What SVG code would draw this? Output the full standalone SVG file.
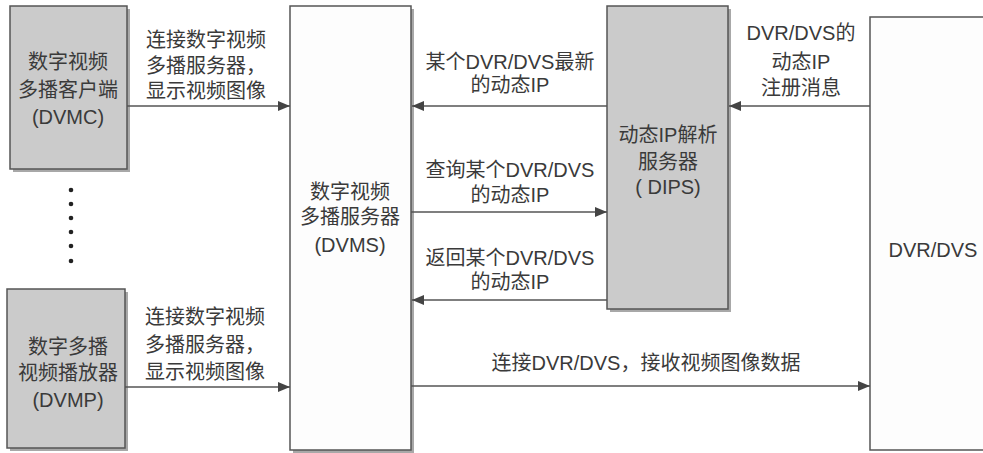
<svg xmlns="http://www.w3.org/2000/svg" width="983" height="453" viewBox="0 0 983 453">
<style>
text{font-family:"Liberation Sans","Noto Sans CJK SC",sans-serif;fill:#3a3a3a;text-anchor:middle}
.lab{font-size:20px}
.box{font-size:20px}
.gray{fill:#cbcbcb;stroke:#555;stroke-width:1.5}
.white{fill:#fdfdfd;stroke:#555;stroke-width:1.5}
.shadow{fill:#a8a8a8}
.conn{stroke:#555;stroke-width:1.5;fill:none;marker-end:url(#ah)}
</style>
<defs>
<marker id="ah" markerWidth="12" markerHeight="10" refX="12" refY="5" orient="auto" markerUnits="userSpaceOnUse">
<path d="M0,0 L12,5 L0,10 Z" fill="#444"/>
</marker>
</defs>
<rect width="983" height="453" fill="#ffffff"/>
<g id="dvmc">
<rect class="shadow" x="13" y="9" width="117" height="163"/>
<rect class="gray" x="10" y="6" width="117" height="163"/>
<text class="box" x="68" y="69">数字视频</text>
<text class="box" x="68" y="97">多播客户端</text>
<text class="box" x="68" y="124">(DVMC)</text>
</g>
<g id="dots" fill="#222">
<circle cx="71" cy="190" r="2.3"/>
<circle cx="71" cy="204" r="2.3"/>
<circle cx="71" cy="218" r="2.3"/>
<circle cx="71" cy="232" r="2.3"/>
<circle cx="71" cy="246" r="2.3"/>
<circle cx="71" cy="261" r="2.3"/>
</g>
<g id="dvmp">
<rect class="shadow" x="10" y="292" width="118" height="159"/>
<rect class="gray" x="7" y="289" width="118" height="159"/>
<text class="box" x="68" y="354">数字多播</text>
<text class="box" x="68" y="380">视频播放器</text>
<text class="box" x="68" y="407">(DVMP)</text>
</g>
<g id="dvms">
<rect class="shadow" x="293" y="9" width="121" height="444"/>
<rect class="white" x="290" y="6" width="121" height="444"/>
<text class="box" x="350" y="199">数字视频</text>
<text class="box" x="350" y="224">多播服务器</text>
<text class="box" x="350" y="252">(DVMS)</text>
</g>
<g id="dips">
<rect class="shadow" x="610" y="9" width="121" height="303"/>
<rect class="gray" x="607" y="6" width="121" height="303"/>
<text class="box" x="668" y="142">动态IP解析</text>
<text class="box" x="668" y="169">服务器</text>
<text class="box" x="668" y="194">( DIPS)</text>
</g>
<g id="dvr">
<rect class="white" x="870" y="17" width="120" height="433"/>
<text class="box" x="933" y="257">DVR/DVS</text>
</g>
<g id="connectors">
<line class="conn" x1="127" y1="106" x2="290" y2="106"/>
<line class="conn" x1="125" y1="387" x2="290" y2="387"/>
<line class="conn" x1="607" y1="106" x2="412" y2="106"/>
<line class="conn" x1="411" y1="212" x2="607" y2="212"/>
<line class="conn" x1="607" y1="300" x2="412" y2="300"/>
<line class="conn" x1="411" y1="386" x2="870" y2="386"/>
<line class="conn" x1="870" y1="106" x2="729" y2="106"/>
</g>
<g id="labels">
<text class="lab" x="206" y="47">连接数字视频</text>
<text class="lab" x="206" y="73">多播服务器，</text>
<text class="lab" x="206" y="98">显示视频图像</text>
<text class="lab" x="205" y="324">连接数字视频</text>
<text class="lab" x="205" y="352">多播服务器，</text>
<text class="lab" x="205" y="379">显示视频图像</text>
<text class="lab" x="510" y="69">某个DVR/DVS最新</text>
<text class="lab" x="510" y="92">的动态IP</text>
<text class="lab" x="510" y="177">查询某个DVR/DVS</text>
<text class="lab" x="510" y="202">的动态IP</text>
<text class="lab" x="510" y="265">返回某个DVR/DVS</text>
<text class="lab" x="510" y="289">的动态IP</text>
<text class="lab" x="646" y="370">连接DVR/DVS，接收视频图像数据</text>
<text class="lab" x="801" y="40">DVR/DVS的</text>
<text class="lab" x="801" y="69">动态IP</text>
<text class="lab" x="801" y="95">注册消息</text>
</g>
</svg>
